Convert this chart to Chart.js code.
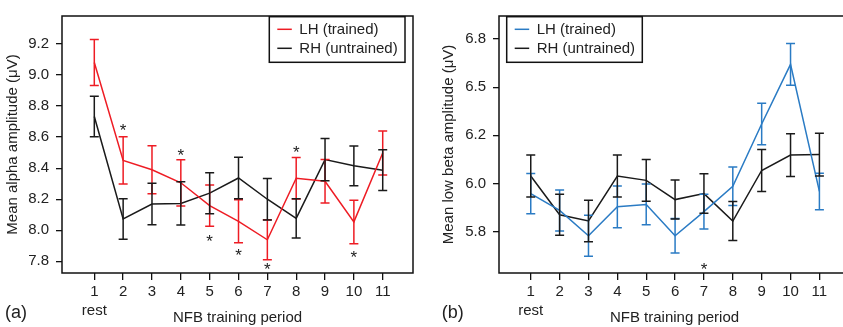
<!DOCTYPE html>
<html><head><meta charset="utf-8">
<script src="https://cdn.jsdelivr.net/npm/chart.js@4.4.1/dist/chart.umd.min.js"></script>
<style>
html,body{margin:0;padding:0;background:#fff;overflow:hidden;width:843px;height:327px;}
#ca{position:absolute;left:0;top:0;}
#cb{position:absolute;left:420px;top:0;}
</style></head><body>
<canvas id="ca" width="420" height="327"></canvas>
<canvas id="cb" width="440" height="327"></canvas>
<script>
// ---- data ----
const periods = [1,2,3,4,5,6,7,8,9,10,11];
const periodLabels = ['1','2','3','4','5','6','7','8','9','10','11'];
const restLabel = 'rest';
const seriesNames = ['LH (trained)','RH (untrained)'];
const xTitle = 'NFB training period';

const alphaLH    = [9.08,8.45,8.39,8.306,8.159,8.058,7.939,8.335,8.316,8.054,8.498];
const alphaLHErr = [0.148,0.152,0.154,0.149,0.133,0.139,0.129,0.134,0.14,0.14,0.142];
const alphaRH    = [8.733,8.073,8.169,8.173,8.239,8.337,8.20,8.077,8.455,8.415,8.387];
const alphaRHErr = [0.131,0.13,0.134,0.139,0.132,0.134,0.133,0.126,0.136,0.128,0.131];
const alphaStarX = [2,4,5,6,7,8,10];
const alphaStarY = [8.669,8.507,7.955,7.863,7.775,8.528,7.852];
const alphaTicks = ['7.8','8.0','8.2','8.4','8.6','8.8','9.0','9.2'];

const betaLH    = [5.958,5.888,5.783,5.903,5.913,5.783,5.883,5.988,6.247,6.495,5.967];
const betaLHErr = [0.084,0.085,0.085,0.087,0.085,0.072,0.072,0.08,0.086,0.087,0.076];
const betaRH    = [6.031,5.870,5.844,6.031,6.013,5.933,5.958,5.844,6.054,6.118,6.120];
const betaRHErr = [0.087,0.085,0.086,0.087,0.087,0.081,0.082,0.081,0.087,0.089,0.089];
const betaStarX = [7];
const betaStarY = [5.661];
const betaTickValues = [5.8,6.0,6.2,6.4,6.6];
const betaTickLabels = ['5.8','6.0','6.2','6.5','6.8'];

// ---- drawing ----
const FONT = "'Liberation Sans', Arial, sans-serif";
const TXT = '#222';

const annot = {
  id: 'annot',
  afterDatasetsDraw(chart) {
    const o = chart.options.plugins.annot;
    const ctx = chart.ctx, xs = chart.scales.x, ys = chart.scales.y, ca = chart.chartArea;
    ctx.save();
    // error bars
    chart.data.datasets.forEach(ds => {
      ctx.strokeStyle = ds.borderColor; ctx.lineWidth = 1.5;
      ds.data.forEach((p, j) => {
        const e = ds.errors[j];
        const x = xs.getPixelForValue(p.x);
        const y1 = ys.getPixelForValue(p.y + e), y2 = ys.getPixelForValue(p.y - e);
        ctx.beginPath();
        ctx.moveTo(x, y1); ctx.lineTo(x, y2);
        ctx.moveTo(x - 4.5, y1); ctx.lineTo(x + 4.5, y1);
        ctx.moveTo(x - 4.5, y2); ctx.lineTo(x + 4.5, y2);
        ctx.stroke();
      });
    });
    // asterisks
    ctx.fillStyle = TXT; ctx.font = '17px ' + FONT;
    ctx.textAlign = 'center'; ctx.textBaseline = 'alphabetic';
    o.starX.forEach((sx, k) => {
      ctx.fillText('*', xs.getPixelForValue(sx), ys.getPixelForValue(o.starY[k]) + 9.7);
    });
    // frame
    ctx.strokeStyle = '#111'; ctx.lineWidth = 1.5;
    ctx.strokeRect(ca.left, ca.top, ca.right - ca.left, ca.bottom - ca.top);
    // legend
    const b = o.legend;
    ctx.fillStyle = '#fff';
    ctx.fillRect(b.x, b.y, b.w, b.h);
    ctx.strokeStyle = '#111'; ctx.lineWidth = 1.5;
    ctx.strokeRect(b.x, b.y, b.w, b.h);
    ctx.textAlign = 'left'; ctx.textBaseline = 'middle'; ctx.font = '15px ' + FONT;
    chart.data.datasets.forEach((ds, i) => {
      const yy = b.y + 12.6 + i * 19;
      ctx.strokeStyle = ds.borderColor; ctx.lineWidth = 1.5;
      ctx.beginPath(); ctx.moveTo(b.x + 8, yy); ctx.lineTo(b.x + 22.5, yy); ctx.stroke();
      ctx.fillStyle = TXT;
      ctx.fillText(ds.label, b.x + 30, yy + 0.5);
    });
    // titles
    ctx.fillStyle = TXT;
    ctx.textAlign = 'center'; ctx.textBaseline = 'middle';
    ctx.font = '15px ' + FONT;
    ctx.fillText(xTitle, (ca.left + ca.right) / 2, 317.7);
    ctx.save();
    ctx.translate(o.yTitleX, (ca.top + ca.bottom) / 2);
    ctx.rotate(-Math.PI / 2);
    ctx.fillText(o.yTitle, 0, 0);
    ctx.restore();
    ctx.textAlign = 'left';
    ctx.font = '18px ' + FONT;
    ctx.fillText(o.panel, o.panelX, 313);
    ctx.restore();
  }
};

function makeChart(id, cfg) {
  const mk = (vals) => vals.map((v, j) => ({ x: periods[j], y: v }));
  return new Chart(document.getElementById(id), {
    type: 'line',
    data: {
      datasets: [
        { label: seriesNames[0], data: mk(cfg.lh), errors: cfg.lhErr, borderColor: cfg.lhColor, borderWidth: 1.5, pointRadius: 0, tension: 0 },
        { label: seriesNames[1], data: mk(cfg.rh), errors: cfg.rhErr, borderColor: '#1a1a1a', borderWidth: 1.5, pointRadius: 0, tension: 0 }
      ]
    },
    options: {
      responsive: false, animation: false, devicePixelRatio: 1,
      layout: { padding: { top: 9, right: cfg.padRight, left: 0, bottom: 0 } },
      plugins: {
        legend: { display: false }, tooltip: { enabled: false },
        annot: { starX: cfg.starX, starY: cfg.starY, legend: cfg.legend, yTitle: cfg.yTitle, yTitleX: cfg.yTitleX, panel: cfg.panel, panelX: cfg.panelX }
      },
      scales: {
        x: {
          type: 'linear', min: cfg.xMin, max: cfg.xMax,
          afterBuildTicks: s => { s.ticks = periods.map(v => ({ value: v })); },
          afterFit: s => { s.height = 54; },
          border: { display: false },
          grid: { drawOnChartArea: false, drawTicks: true, tickLength: 7, color: '#111', lineWidth: 1.3 },
          ticks: {
            autoSkip: false, maxRotation: 0, padding: 3, color: TXT,
            font: { size: 15, family: FONT, lineHeight: 1.22 },
            callback: (v) => { const i = periods.indexOf(v); return i === 0 ? [periodLabels[i], restLabel] : periodLabels[i]; }
          }
        },
        y: {
          type: 'linear', min: cfg.yMin, max: cfg.yMax,
          afterBuildTicks: s => { s.ticks = cfg.yTickVals.map(v => ({ value: v })); },
          afterFit: s => { s.width = cfg.yWidth; },
          border: { display: false },
          grid: { drawOnChartArea: false, drawTicks: true, tickLength: 6, color: '#111', lineWidth: 1.3 },
          ticks: {
            padding: 7, color: TXT, font: { size: 15, family: FONT },
            callback: (v) => { const i = cfg.yTickVals.findIndex(t => Math.abs(t - v) < 1e-6); return cfg.yTickLabels[i]; }
          }
        }
      }
    },
    plugins: [annot]
  });
}

makeChart('ca', {
  lh: alphaLH, lhErr: alphaLHErr, rh: alphaRH, rhErr: alphaRHErr, lhColor: '#ee1c24',
  starX: alphaStarX, starY: alphaStarY,
  yMin: 7.725, yMax: 9.38, yTickVals: alphaTicks.map(Number), yTickLabels: alphaTicks,
  xMin: -0.12, xMax: 12.05, yWidth: 62, padRight: 7,
  legend: { x: 269.3, y: 16.7, w: 135.7, h: 45.6 },
  yTitle: 'Mean alpha amplitude (\u03bcV)', yTitleX: 13, panel: '(a)', panelX: 5
});
makeChart('cb', {
  lh: betaLH, lhErr: betaLHErr, rh: betaRH, rhErr: betaRHErr, lhColor: '#2a7bc4',
  starX: betaStarX, starY: betaStarY,
  yMin: 5.628, yMax: 6.696, yTickVals: betaTickValues, yTickLabels: betaTickLabels,
  xMin: -0.1, xMax: 12.06, yWidth: 79, padRight: 10,
  legend: { x: 86.7, y: 16.7, w: 135.6, h: 45.6 },
  yTitle: 'Mean low beta amplitude (\u03bcV)', yTitleX: 29.3, panel: '(b)', panelX: 21.7
});
</script>
</body></html>
